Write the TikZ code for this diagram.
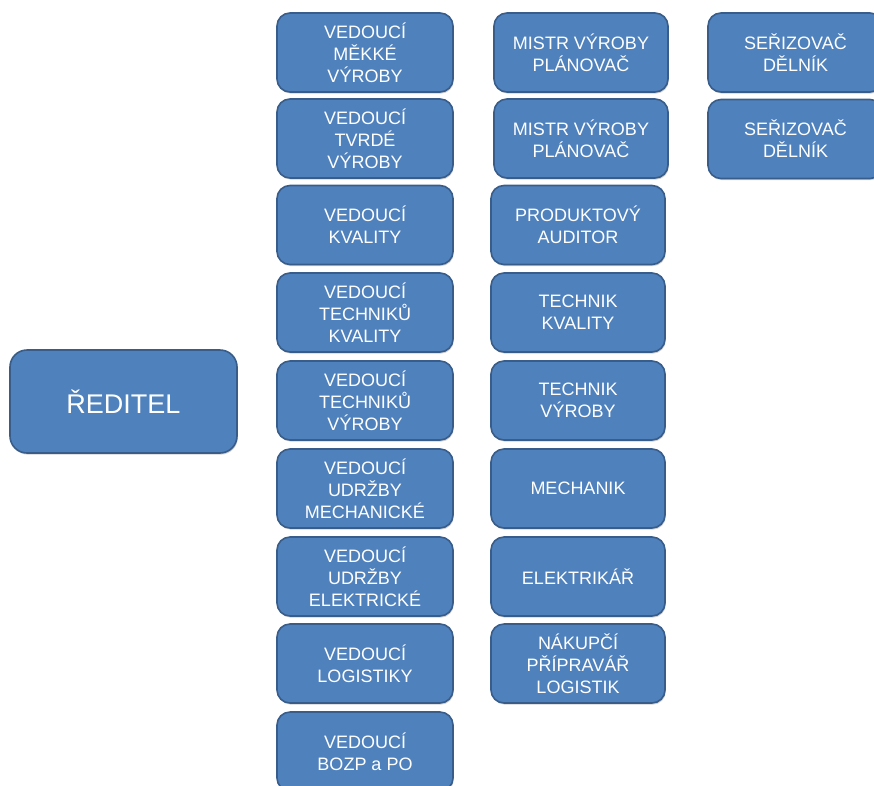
\documentclass[tikz,border=0pt]{standalone}
\usepackage{fontspec}
\setmainfont{Liberation Sans}
\usetikzlibrary{shadows}
\definecolor{boxfill}{HTML}{4F81BD}
\definecolor{boxline}{HTML}{385D8A}
\begin{document}
\begin{tikzpicture}[x=1pt,y=-1pt,
  orgbox/.style={draw=boxline, fill=boxfill, line width=1.6pt,
    rounded corners=13pt, text=white, align=center, inner sep=0pt,
    minimum height=79pt,
    font=\fontsize{18}{22}\selectfont,
    drop shadow={shadow xshift=0.8pt, shadow yshift=-1.6pt, opacity=0.18, fill=black}},
  colA/.style={orgbox, minimum width=176pt},
  colB/.style={orgbox, minimum width=174pt},
  colC/.style={orgbox, minimum width=175pt},
  headbox/.style={orgbox, minimum width=227pt, minimum height=103pt,
    rounded corners=17pt, font=\fontsize{27}{32}\selectfont}]
\useasboundingbox (0,0) rectangle (874,785);
\clip (0,0) rectangle (874,785);

% director
\node[headbox] (reditel) at (123.5,401.5) {ŘEDITEL};

% first level: heads of departments
\node[colA] (a1) at (365,52.5)  {VEDOUCÍ\\MĚKKÉ\\VÝROBY};
\node[colA] (a2) at (365,138.5) {VEDOUCÍ\\TVRDÉ\\VÝROBY};
\node[colA] (a3) at (365,225)   {VEDOUCÍ\\KVALITY};
\node[colA] (a4) at (365,312.5) {VEDOUCÍ\\TECHNIKŮ\\KVALITY};
\node[colA] (a5) at (365,400.5) {VEDOUCÍ\\TECHNIKŮ\\VÝROBY};
\node[colA] (a6) at (365,488.5) {VEDOUCÍ\\UDRŽBY\\MECHANICKÉ};
\node[colA] (a7) at (365,576.5) {VEDOUCÍ\\UDRŽBY\\ELEKTRICKÉ};
\node[colA] (a8) at (365,663.5) {VEDOUCÍ\\LOGISTIKY};
\node[colA] (a9) at (365,751.5) {VEDOUCÍ\\BOZP a PO};

% second level
\node[colB] (b1) at (581,52.5)  {MISTR VÝROBY\\PLÁNOVAČ};
\node[colB] (b2) at (581,138.5) {MISTR VÝROBY\\PLÁNOVAČ};
\node[colB] (b3) at (578,225)   {PRODUKTOVÝ\\AUDITOR};
\node[colB] (b4) at (578,312.5) {TECHNIK\\KVALITY};
\node[colB] (b5) at (578,400.5) {TECHNIK\\VÝROBY};
\node[colB] (b6) at (578,488.5) {MECHANIK};
\node[colB] (b7) at (578,576.5) {ELEKTRIKÁŘ};
\node[colB] (b8) at (578,663.5) {NÁKUPČÍ\\PŘÍPRAVÁŘ\\LOGISTIK};

% third level
\node[colC] (c1) at (795.5,52.5)  {SEŘIZOVAČ\\DĚLNÍK};
\node[colC] (c2) at (795.5,139)   {SEŘIZOVAČ\\DĚLNÍK};
\end{tikzpicture}
\end{document}
